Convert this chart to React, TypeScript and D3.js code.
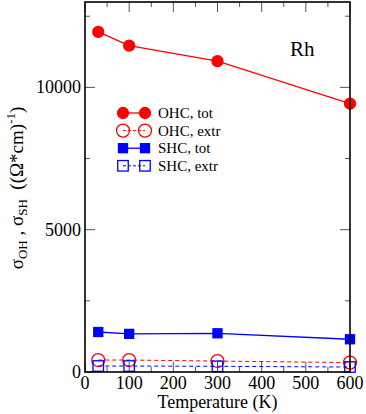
import React from 'react';
import * as d3 from 'd3';

const temps = [30, 100, 300, 600];
const ohcTot = [11950, 11470, 10920, 9430];
const ohcExtr = [420, 420, 385, 330];
const shcTot = [1405, 1340, 1360, 1150];
const shcExtr = [210, 210, 200, 175];
const xTicks = [0, 100, 200, 300, 400, 500, 600];
const yTicks = [0, 5000, 10000];
const legendLabels = ['OHC, tot', 'OHC, extr', 'SHC, tot', 'SHC, extr'];

const W = 366, H = 414;
const box = { left: 85, right: 350, top: 2, bottom: 372 };
const font = "Liberation Serif, Times New Roman, DejaVu Serif, serif";

export default function App() {
  const x = d3.scaleLinear().domain([0, 600]).range([box.left, box.right]);
  const y = d3.scaleLinear().domain([0, 13000]).range([box.bottom, box.top]);
  const line = d3.line<[number, number]>().x(d => x(d[0])).y(d => y(d[1]));
  const pts = (vals: number[]) => temps.map((t, i) => [t, vals[i]] as [number, number]);

  const series = [
    { vals: ohcTot, color: '#ff0000', dash: null, shape: 'circle', fill: true },
    { vals: ohcExtr, color: '#ff0000', dash: '4,3', shape: 'circle', fill: false },
    { vals: shcTot, color: '#0000ff', dash: null, shape: 'square', fill: true },
    { vals: shcExtr, color: '#0000ff', dash: '4,3', shape: 'square', fill: false },
  ];

  const marker = (shape: string, fill: boolean, color: string, cx: number, cy: number, key: any) => {
    if (shape === 'circle') {
      const r = fill ? 5.5 : 6.5;
      return <circle key={key} cx={cx} cy={cy} r={r} fill={fill ? color : 'none'} stroke={color} strokeWidth={1.3} />;
    }
    const s = fill ? 9 : 10.5;
    return <rect key={key} x={cx - s / 2} y={cy - s / 2} width={s} height={s} fill={fill ? color : 'none'} stroke={color} strokeWidth={1.3} />;
  };

  const minorX = d3.range(0, 601, 50).filter(v => v % 100 !== 0);
  const minorY = d3.range(0, 13001, 2500).filter(v => v % 5000 !== 0);
  const tickColor = '#555';

  return (
    <svg width={W} height={H} style={{ position: 'absolute', left: 0, top: 0, fontFamily: font }}>
      <rect width={W} height={H} fill="#fff" />
      {xTicks.map(v => (
        <g key={'xt' + v}>
          <line x1={x(v)} x2={x(v)} y1={box.bottom} y2={box.bottom - 10} stroke={tickColor} />
          <line x1={x(v)} x2={x(v)} y1={box.top} y2={box.top + 10} stroke={tickColor} />
          <text x={x(v)} y={box.bottom + 17} textAnchor="middle" fontSize={18}>{v}</text>
        </g>
      ))}
      {minorX.map(v => (
        <g key={'xm' + v}>
          <line x1={x(v)} x2={x(v)} y1={box.bottom} y2={box.bottom - 5} stroke={tickColor} />
          <line x1={x(v)} x2={x(v)} y1={box.top} y2={box.top + 5} stroke={tickColor} />
        </g>
      ))}
      {yTicks.map(v => (
        <g key={'yt' + v}>
          <line x1={box.left} x2={box.left + 10} y1={y(v)} y2={y(v)} stroke={tickColor} />
          <line x1={box.right} x2={box.right - 10} y1={y(v)} y2={y(v)} stroke={tickColor} />
          <text x={box.left - 4} y={y(v) + 6} textAnchor="end" fontSize={18}>{v}</text>
        </g>
      ))}
      {minorY.map(v => (
        <g key={'ym' + v}>
          <line x1={box.left} x2={box.left + 5} y1={y(v)} y2={y(v)} stroke={tickColor} />
          <line x1={box.right} x2={box.right - 5} y1={y(v)} y2={y(v)} stroke={tickColor} />
        </g>
      ))}
      {series.map((s, i) => (
        <g key={'s' + i}>
          <path d={line(pts(s.vals)) || ''} fill="none" stroke={s.color} strokeWidth={s.dash ? 1 : 1.3}
            strokeDasharray={s.dash || undefined} />
          {pts(s.vals).map((p, j) => marker(s.shape, s.fill, s.color, x(p[0]), y(p[1]), j))}
        </g>
      ))}
      <rect x={box.left} y={box.top} width={box.right - box.left} height={box.bottom - box.top}
        fill="none" stroke="#000" strokeWidth={1.6} />
      {series.map((s, i) => {
        const ly = 113 + i * 17.6;
        return (
          <g key={'l' + i}>
            <line x1={123} x2={145} y1={ly} y2={ly} stroke={s.color} strokeWidth={s.dash ? 1 : 1.3}
              strokeDasharray={s.dash ? '3,2' : undefined} />
            {marker(s.shape, s.fill, s.color, 123, ly, 'a')}
            {marker(s.shape, s.fill, s.color, 145, ly, 'b')}
            <text x={158} y={ly + 5} fontSize={15}>{legendLabels[i]}</text>
          </g>
        );
      })}
      <text x={290} y={56} fontSize={21}>Rh</text>
      <text x={(box.left + box.right) / 2} y={408} textAnchor="middle" fontSize={18}>Temperature (K)</text>
      <text transform="translate(23,188) rotate(-90)" textAnchor="middle" fontSize={19}>
        <tspan>σ</tspan>
        <tspan fontSize={13} dy={4}>OH</tspan>
        <tspan dy={-4}> , σ</tspan>
        <tspan fontSize={13} dy={4}>SH</tspan>
        <tspan dy={-4}>{'\u00a0\u00a0((Ω*cm)'}</tspan>
        <tspan fontSize={13} dy={-8}>-1</tspan>
        <tspan dy={8}>)</tspan>
      </text>
    </svg>
  );
}
